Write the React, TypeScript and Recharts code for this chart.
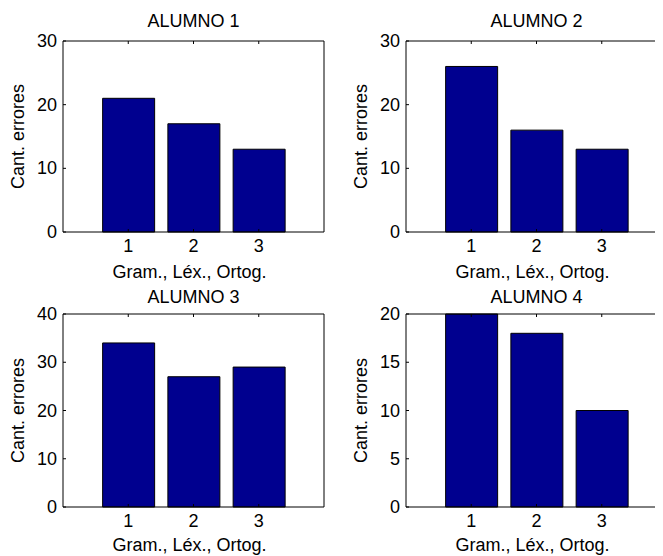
import { BarChart, Bar, XAxis, YAxis } from 'recharts'

// values
const categories = [1, 2, 3]
const alumno1 = [21, 17, 13]
const alumno2 = [26, 16, 13]
const alumno3 = [34, 27, 29]
const alumno4 = [20, 18, 10]
const titles = ['ALUMNO 1', 'ALUMNO 2', 'ALUMNO 3', 'ALUMNO 4']
const yTicks1 = [0, 10, 20, 30]
const yTicks2 = [0, 10, 20, 30]
const yTicks3 = [0, 10, 20, 30, 40]
const yTicks4 = [0, 5, 10, 15, 20]
const xTicks = [1, 2, 3]
const xLabel = 'Gram., Léx., Ortog.'
const yLabel = 'Cant. errores'

const FONT = '"Liberation Sans", Arial, Helvetica, sans-serif'
const FS = 18
const TICK = 3
const BAR = '#00008F'

type Panel = {
  title: string
  values: number[]
  yTicks: number[]
  left: number
  top: number
  w: number
  h: number
  bx: number
  by: number
  bw: number
  bh: number
  titleGap: number
  labelGap: number
}

const panels: Panel[] = [
  { title: titles[0], values: alumno1, yTicks: yTicks1, left: 0, top: 0, w: 332, h: 280, bx: 63, by: 41, bw: 261, bh: 191, titleGap: 14, labelGap: 46 },
  { title: titles[1], values: alumno2, yTicks: yTicks2, left: 332, top: 0, w: 345, h: 280, bx: 74, by: 41, bw: 261, bh: 191, titleGap: 14, labelGap: 46 },
  { title: titles[2], values: alumno3, yTicks: yTicks3, left: 0, top: 280, w: 332, h: 276, bx: 63, by: 34, bw: 261, bh: 193, titleGap: 11, labelGap: 44 },
  { title: titles[3], values: alumno4, yTicks: yTicks4, left: 332, top: 280, w: 345, h: 276, bx: 74, by: 34, bw: 261, bh: 193, titleGap: 11, labelGap: 44 },
]

const txt = { fontFamily: FONT, fontSize: FS, fill: '#000' }

const LeftTick = (p: any) => (
  <g>
    <line x1={p.x} x2={p.x + TICK} y1={p.y} y2={p.y} stroke="#000" />
    <text x={p.x - 6} y={p.y + 6} textAnchor="end" {...txt}>
      {p.payload.value}
    </text>
  </g>
)

const RightTick = (p: any) => (
  <line x1={p.x - TICK} x2={p.x} y1={p.y} y2={p.y} stroke="#000" />
)

const BottomTick = (p: any) => (
  <g>
    <line x1={p.x} x2={p.x} y1={p.y} y2={p.y - TICK} stroke="#000" />
    <text x={p.x} y={p.y + 20} textAnchor="middle" {...txt}>
      {p.payload.value}
    </text>
  </g>
)

const TopTick = (p: any) => (
  <line x1={p.x} x2={p.x} y1={p.y} y2={p.y + TICK} stroke="#000" />
)

function Subplot({ p }: { p: Panel }) {
  const data = categories.map((c, i) => ({ x: c, v: p.values[i] }))
  const yMax = p.yTicks[p.yTicks.length - 1]
  const margin = {
    left: p.bx - 40,
    right: p.w - (p.bx + p.bw) - 2,
    top: p.by - 2,
    bottom: p.h - (p.by + p.bh) - 30,
  }
  return (
    <div style={{ position: 'absolute', left: p.left, top: p.top, width: p.w, height: p.h }}>
      <BarChart width={p.w} height={p.h} data={data} margin={margin}>
        <XAxis
          dataKey="x"
          type="number"
          domain={[0, 4]}
          ticks={xTicks}
          interval={0}
          height={30}
          stroke="#000"
          tickLine={false}
          tickSize={0}
          tickMargin={0}
          tick={BottomTick}
        />
        <XAxis
          xAxisId="top"
          orientation="top"
          dataKey="x"
          type="number"
          domain={[0, 4]}
          ticks={xTicks}
          interval={0}
          height={2}
          stroke="#000"
          tickLine={false}
          tickSize={0}
          tickMargin={0}
          tick={TopTick}
        />
        <YAxis
          type="number"
          domain={[0, yMax]}
          ticks={p.yTicks}
          interval={0}
          width={40}
          stroke="#000"
          tickLine={false}
          tickSize={0}
          tickMargin={0}
          tick={LeftTick}
        />
        <YAxis
          yAxisId="right"
          orientation="right"
          type="number"
          domain={[0, yMax]}
          ticks={p.yTicks}
          interval={0}
          width={2}
          stroke="#000"
          tickLine={false}
          tickSize={0}
          tickMargin={0}
          tick={RightTick}
        />
        <Bar dataKey="v" fill={BAR} stroke="#000" strokeWidth={1} barSize={52} isAnimationActive={false} />
      </BarChart>
      <svg
        width={p.w}
        height={p.h}
        style={{ position: 'absolute', left: 0, top: 0, pointerEvents: 'none', overflow: 'visible' }}
      >
        <text x={p.bx + p.bw / 2} y={p.by - p.titleGap} textAnchor="middle" {...txt}>
          {p.title}
        </text>
        <text x={p.bx + p.bw / 2 - 4} y={p.by + p.bh + p.labelGap} textAnchor="middle" {...txt}>
          {xLabel}
        </text>
        <text
          x={0}
          y={0}
          textAnchor="middle"
          transform={`translate(${p.bx - 39}, ${p.by + p.bh / 2}) rotate(-90)`}
          {...txt}
        >
          {yLabel}
        </text>
      </svg>
    </div>
  )
}

export default function App() {
  return (
    <div
      style={{
        position: 'relative',
        width: 663,
        height: 556,
        margin: '-8px 0 0 -8px',
        overflow: 'hidden',
        background: '#fff',
      }}
    >
      {panels.map((p) => (
        <Subplot key={p.title} p={p} />
      ))}
    </div>
  )
}
